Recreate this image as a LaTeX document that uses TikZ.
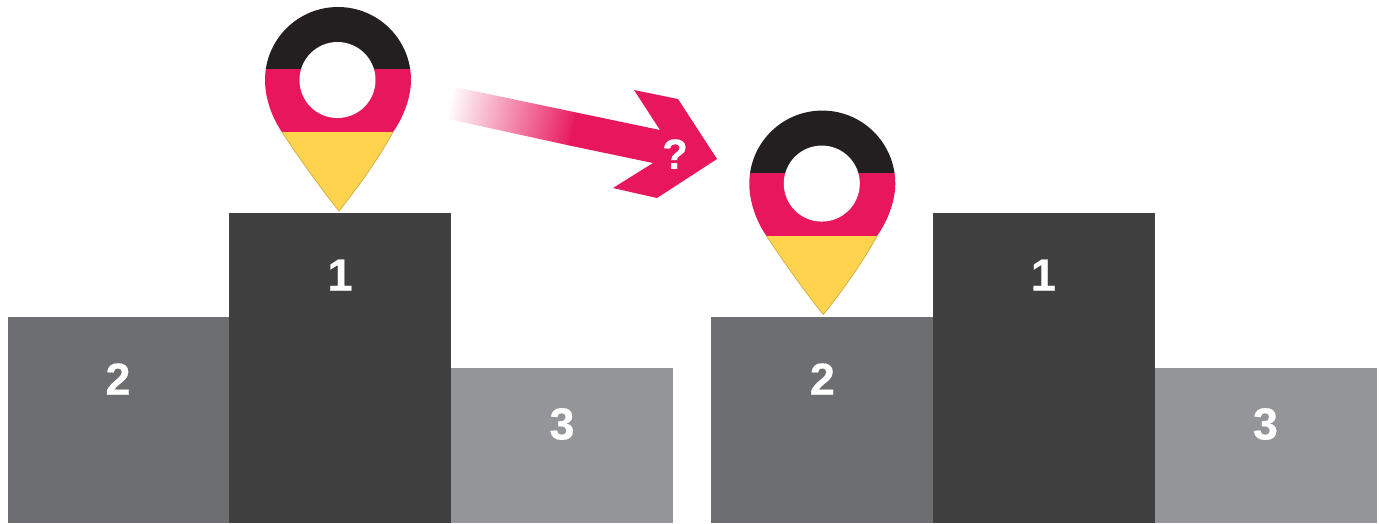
\documentclass[tikz,border=0pt]{standalone}
\usepackage{fontspec}
\setmainfont[BoldFeatures={FakeBold=0.4}]{Liberation Sans}
\definecolor{barfirst}{RGB}{64,64,64}
\definecolor{barsecond}{RGB}{109,110,113}
\definecolor{barthird}{RGB}{147,149,152}
\definecolor{pinblack}{RGB}{35,31,32}
\definecolor{pinred}{RGB}{232,23,93}
\definecolor{pinyellow}{RGB}{255,211,78}
\newcommand{\pinoutline}{(339,211) .. controls (322,190) and (299,158) .. (282,132) .. controls (272,118) and (265,98) .. (265,80) arc[start angle=180,end angle=360,radius=73] .. controls (411,98) and (403,118) .. (393,132) .. controls (379,158) and (356,190) .. (339,211) -- cycle}
\tikzset{
  rank/.style={font=\fontsize{12.8}{16}\selectfont\bfseries,text=white,inner sep=0pt},
  pinedge/.style={draw=pinyellow!82!black,line width=0.2pt},
  firstbar/.style={fill=barfirst},
  secondbar/.style={fill=barsecond},
  thirdbar/.style={fill=barthird}
}
\begin{document}
\begin{tikzpicture}[x=0.01cm,y=-0.01cm]
\useasboundingbox (0,0) rectangle (1379,523);
% left podium
\begin{scope}[shift={(0,0)}]
\fill[secondbar] (8,317) rectangle (230,523);
\fill[firstbar] (229,213) rectangle (451,523);
\fill[thirdbar] (451,368) rectangle (673,523);
\node[rank] (secondleft) at (118,379) {2};
\node[rank] (firstleft) at (340,275) {1};
\node[rank] (thirdleft) at (562,424) {3};
\end{scope}
% right podium
\begin{scope}[shift={(7.03cm,0)}]
\fill[secondbar] (8,317) rectangle (230,523);
\fill[firstbar] (230,213) rectangle (452,523);
\fill[thirdbar] (452,368) rectangle (674,523);
\node[rank] (secondright) at (119,379) {2};
\node[rank] (firstright) at (340,275) {1};
\node[rank] (thirdright) at (562,424) {3};
\end{scope}
% pin on first place
\begin{scope}
\clip \pinoutline;
\fill[pinblack] (260,0) rectangle (416,69);
\fill[pinred] (260,69) rectangle (416,132);
\fill[pinyellow] (260,132) rectangle (416,215);
\end{scope}
\draw[pinedge] (282,132) .. controls (299,158) and (322,190) .. (339,211) .. controls (356,190) and (379,158) .. (393,132);
\fill[white] (337.5,80) circle[radius=38];
% pin on second place
\begin{scope}[shift={(4.84cm,-1.035cm)}]
\begin{scope}
\clip \pinoutline;
\fill[pinblack] (260,0) rectangle (416,69);
\fill[pinred] (260,69) rectangle (416,132);
\fill[pinyellow] (260,132) rectangle (416,215);
\end{scope}
\draw[pinedge] (282,132) .. controls (299,158) and (322,190) .. (339,211) .. controls (356,190) and (379,158) .. (393,132);
\fill[white] (337.5,80) circle[radius=38];
\end{scope}
% arrow
\begin{scope}
\clip (448,119) -- (455,87) -- (576,112.4) -- (569,145.4) -- cycle;
\shade[left color=white,right color=pinred,shading angle=78] (447,51) rectangle (577,181);
\end{scope}
\fill[pinred] (575.5,112.3) -- (660,130) -- (634,90) -- (678,99) -- (717,159) -- (657,198) -- (613,188) -- (653,163) -- (568.5,145.3) -- cycle;
\node[font=\fontsize{12}{15}\selectfont\bfseries,text=white,inner sep=0pt] (question) at (675,154) {?};
\end{tikzpicture}
\end{document}
